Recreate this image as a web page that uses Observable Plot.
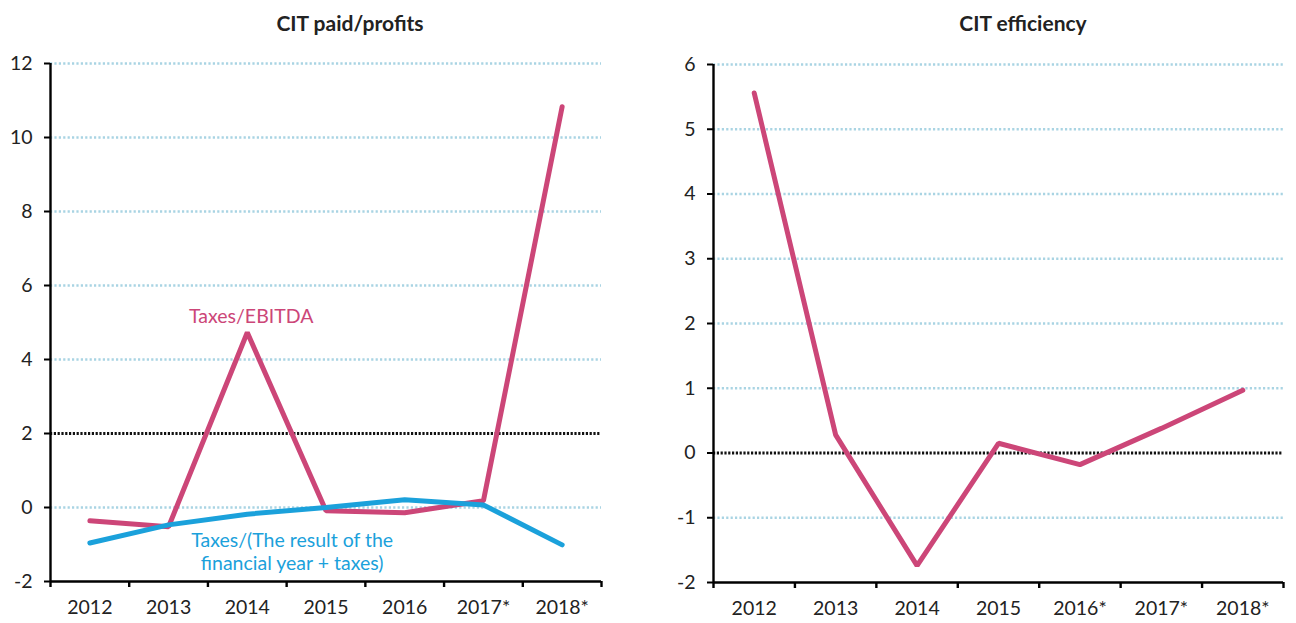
<!DOCTYPE html>
<html>
<head>
<meta charset="utf-8">
<script src="https://cdn.jsdelivr.net/npm/d3@7"></script>
<script src="https://cdn.jsdelivr.net/npm/@observablehq/plot@0.6"></script>
<style>
  body { margin: 0; background: #fff; font-family: Lato, "Open Sans", sans-serif; }
  #wrap { display: flex; width: 1296px; height: 623px; }
  .panel { width: 648px; }
  .title { height: 29px; padding-top: 11px; font-size: 21px; font-weight: bold; line-height: 24px; color: #222; text-align: center; box-sizing: content-box; }
</style>
</head>
<body>
<div id="wrap">
  <div class="panel" id="left"><div class="title" style="padding-left:52px">CIT paid/profits</div></div>
  <div class="panel" id="right"><div class="title" style="padding-left:102px">CIT efficiency</div></div>
</div>
<script>
// ---- data ----
const yearsLeft = ["2012", "2013", "2014", "2015", "2016", "2017*", "2018*"];
const yearsRight = ["2012", "2013", "2014", "2015", "2016*", "2017*", "2018*"];
const taxesEbitda = [-0.36, -0.52, 4.73, -0.09, -0.14, 0.18, 10.83];
const taxesResult = [-0.96, -0.47, -0.18, 0.0, 0.21, 0.07, -1.01];
const citEfficiency = [5.56, 0.28, -1.74, 0.15, -0.18, 0.38, 0.97];
const leftTicks = [-2, 0, 2, 4, 6, 8, 10, 12];
const rightTicks = [-2, -1, 0, 1, 2, 3, 4, 5, 6];
const leftThreshold = 2;
const rightThreshold = 0;
const leftLabels = [
  {x: 2.05, y: 5.2, text: "Taxes/EBITDA", series: "pink"},
  {x: 2.57, y: -1.17, text: "Taxes/(The result of the\nfinancial year + taxes)", series: "blue"}
];

const PINK = "#cc4678";
const BLUE = "#1ba1db";
const GRID = "#a9d4e3";
const FONT = "19.5px";

function toRows(values) { return values.map((v, i) => ({i, v})); }

function panel(opts) {
  const {years, ticks, threshold, series, labels, marginLeft, marginRight, marginTop, marginBottom} = opts;
  const idx = years.map((_, i) => i);
  const bounds = d3.range(years.length + 1).map(i => i - 0.5);
  const yMin = ticks[0], yMax = ticks[ticks.length - 1];
  return Plot.plot({
    width: 648,
    height: 583,
    marginLeft, marginRight, marginTop, marginBottom,
    style: {fontFamily: "Lato, 'Open Sans', sans-serif", fontSize: FONT, color: "#222", background: "transparent"},
    x: {type: "linear", domain: [-0.5, years.length - 0.5]},
    y: {domain: [yMin, yMax]},
    marks: [
      Plot.gridY(ticks.filter(t => t !== yMin && t !== threshold), {stroke: GRID, strokeOpacity: 1, strokeWidth: 2.6, strokeDasharray: "2.2,2.2"}),
      Plot.ruleY([threshold], {stroke: "#111", strokeWidth: 3, strokeDasharray: "2.2,1.6"}),
      Plot.axisY(ticks, {anchor: "left", tickSize: 6, tickPadding: 12, strokeWidth: 2, stroke: "#000", label: null, fontSize: FONT, tickFormat: d => String(d)}),
      Plot.axisX(bounds, {anchor: "bottom", tickSize: 6, strokeWidth: 2.4, stroke: "#000", tickFormat: () => "", label: null}),
      Plot.axisX(idx, {anchor: "bottom", tickSize: 0, tickPadding: 19, tickFormat: i => years[i], label: null, fontSize: FONT}),
      Plot.ruleX([-0.5], {stroke: "#000", strokeWidth: 2.4}),
      Plot.ruleY([yMin], {stroke: "#000", strokeWidth: 2.4}),
      ...series.map(s => Plot.line(toRows(s.values), {x: "i", y: "v", stroke: s.color, strokeWidth: 5, strokeLinejoin: "miter", strokeLinecap: "round"})),
      ...(labels ? [Plot.text(labels, {x: "x", y: "y", text: "text", fill: d => d.series === "pink" ? PINK : BLUE, fontSize: FONT, lineHeight: 1.2})] : [])
    ]
  });
}

document.getElementById("left").appendChild(panel({
  years: yearsLeft, ticks: leftTicks, threshold: leftThreshold,
  series: [{values: taxesEbitda, color: PINK}, {values: taxesResult, color: BLUE}],
  labels: leftLabels,
  marginLeft: 50, marginRight: 47, marginTop: 23, marginBottom: 42
}));
document.getElementById("right").appendChild(panel({
  years: yearsRight, ticks: rightTicks, threshold: rightThreshold,
  series: [{values: citEfficiency, color: PINK}],
  labels: null,
  marginLeft: 65, marginRight: 13, marginTop: 24, marginBottom: 41
}));
</script>
</body>
</html>
